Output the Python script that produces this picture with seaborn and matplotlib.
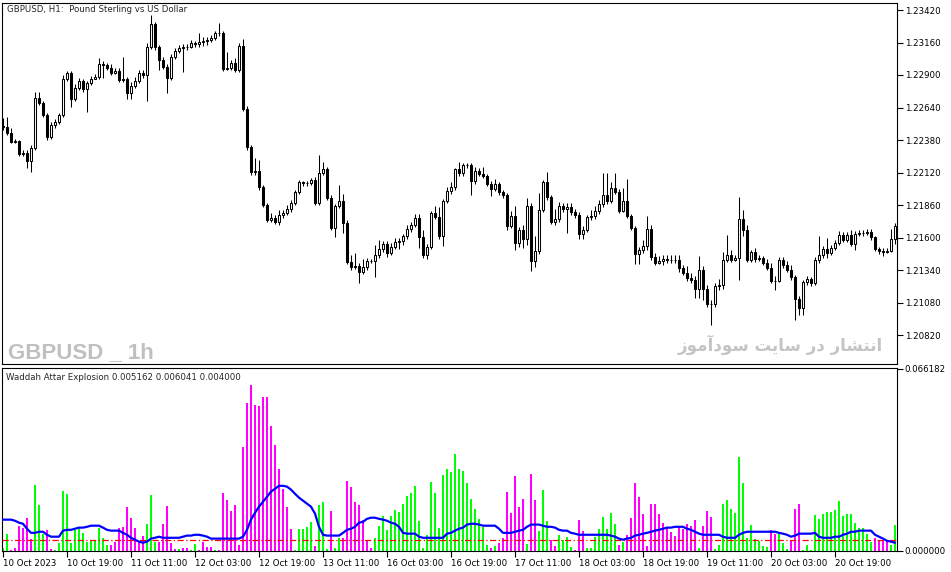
import pandas as pd
import matplotlib.pyplot as plt
import seaborn as sns
from matplotlib import font_manager

### GBPUSD H1 candles (MT5 screenshot), bar 0 = 10 Oct 2023 03:00, open of bar i = close of bar i-1
first_open = 1.22492
close = [1.22484, 1.22436, 1.22364, 1.22372, 1.22268, 1.22276, 1.22212, 1.22316, 1.22716, 1.22676, 1.22580, 1.22404, 1.22500, 1.22524, 1.22580,
         1.22868, 1.22916, 1.22708, 1.22796, 1.22852, 1.22788, 1.22836, 1.22868, 1.22884, 1.22988, 1.22980, 1.22956, 1.22916, 1.22932, 1.22860,
         1.22868, 1.22756, 1.22812, 1.22852, 1.22916, 1.22900, 1.23124, 1.23308, 1.23124, 1.23020, 1.22964, 1.22876, 1.23044, 1.23092, 1.23116,
         1.23124, 1.23124, 1.23156, 1.23148, 1.23164, 1.23172, 1.23180, 1.23196, 1.23236, 1.23236, 1.22948, 1.22956, 1.22996, 1.22940, 1.23132,
         1.22628, 1.22324, 1.22124, 1.22132, 1.22004, 1.21860, 1.21740, 1.21756, 1.21724, 1.21780, 1.21796, 1.21828, 1.21876, 1.21964, 1.22044,
         1.22036, 1.22036, 1.22060, 1.21876, 1.22116, 1.22148, 1.21916, 1.21676, 1.21852, 1.21892, 1.21716, 1.21404, 1.21364, 1.21372, 1.21324,
         1.21364, 1.21412, 1.21412, 1.21460, 1.21508, 1.21548, 1.21476, 1.21524, 1.21564, 1.21572, 1.21612, 1.21668, 1.21700, 1.21756, 1.21604,
         1.21460, 1.21524, 1.21796, 1.21764, 1.21612, 1.21892, 1.21972, 1.22004, 1.22148, 1.22116, 1.22180, 1.22180, 1.22052, 1.22132, 1.22108,
         1.22092, 1.22028, 1.21988, 1.22028, 1.21964, 1.21940, 1.21692, 1.21772, 1.21556, 1.21660, 1.21588, 1.21852, 1.21412, 1.21492, 1.21820,
         1.22044, 1.21924, 1.21724, 1.21748, 1.21852, 1.21828, 1.21844, 1.21804, 1.21780, 1.21628, 1.21660, 1.21764, 1.21772, 1.21812, 1.21868,
         1.21940, 1.21892, 1.21996, 1.21964, 1.21812, 1.21892, 1.21772, 1.21676, 1.21468, 1.21500, 1.21532, 1.21668, 1.21444, 1.21396, 1.21412,
         1.21428, 1.21420, 1.21420, 1.21420, 1.21356, 1.21316, 1.21276, 1.21260, 1.21188, 1.21340, 1.21188, 1.21068, 1.21068, 1.21212, 1.21220,
         1.21420, 1.21460, 1.21420, 1.21436, 1.21748, 1.21660, 1.21420, 1.21484, 1.21428, 1.21436, 1.21396, 1.21356, 1.21252, 1.21252, 1.21420,
         1.21380, 1.21340, 1.21284, 1.21108, 1.21036, 1.21244, 1.21268, 1.21236, 1.21420, 1.21460, 1.21508, 1.21476, 1.21516, 1.21556, 1.21620,
         1.21580, 1.21620, 1.21548, 1.21628, 1.21636, 1.21636, 1.21644, 1.21604, 1.21508, 1.21492, 1.21484, 1.21492, 1.21588, 1.21692]
high = [1.22556, 1.22564, 1.22476, 1.22388, 1.22380, 1.22300, 1.22300, 1.22340, 1.22764, 1.22764, 1.22692, 1.22596, 1.22524, 1.22548, 1.22596,
        1.22900, 1.22932, 1.22932, 1.22828, 1.22876, 1.22868, 1.22852, 1.22892, 1.22908, 1.23036, 1.23012, 1.22996, 1.22988, 1.22956, 1.22956,
        1.23044, 1.22884, 1.22844, 1.22884, 1.22940, 1.22940, 1.23156, 1.23380, 1.23324, 1.23140, 1.23044, 1.22988, 1.23068, 1.23116, 1.23140,
        1.23148, 1.23148, 1.23180, 1.23172, 1.23236, 1.23204, 1.23204, 1.23220, 1.23252, 1.23316, 1.23252, 1.23084, 1.23020, 1.23036, 1.23156,
        1.23188, 1.22652, 1.22340, 1.22236, 1.22220, 1.22020, 1.21876, 1.21796, 1.21780, 1.21820, 1.21820, 1.21860, 1.21900, 1.21980, 1.22060,
        1.22052, 1.22052, 1.22076, 1.22084, 1.22260, 1.22204, 1.22164, 1.21940, 1.21868, 1.22020, 1.21948, 1.21740, 1.21460, 1.21476, 1.21396,
        1.21428, 1.21436, 1.21428, 1.21540, 1.21580, 1.21572, 1.21572, 1.21556, 1.21596, 1.21596, 1.21628, 1.21700, 1.21724, 1.21788, 1.21788,
        1.21660, 1.21548, 1.21812, 1.21852, 1.21844, 1.21908, 1.22004, 1.22044, 1.22156, 1.22204, 1.22196, 1.22196, 1.22196, 1.22164, 1.22156,
        1.22164, 1.22108, 1.22052, 1.22068, 1.22044, 1.21980, 1.21956, 1.21812, 1.21852, 1.21684, 1.21700, 1.21916, 1.21876, 1.21612, 1.21956,
        1.22060, 1.22124, 1.21940, 1.21828, 1.21884, 1.21876, 1.21876, 1.21876, 1.21828, 1.21804, 1.21692, 1.21780, 1.21820, 1.21852, 1.21900,
        1.22116, 1.22116, 1.22044, 1.22116, 1.21988, 1.21996, 1.22068, 1.21788, 1.21692, 1.21524, 1.21580, 1.21772, 1.21700, 1.21476, 1.21452,
        1.21460, 1.21460, 1.21460, 1.21460, 1.21460, 1.21380, 1.21372, 1.21316, 1.21292, 1.21452, 1.21372, 1.21220, 1.21100, 1.21236, 1.21268,
        1.21484, 1.21620, 1.21500, 1.21460, 1.21924, 1.21820, 1.21700, 1.21500, 1.21516, 1.21460, 1.21452, 1.21428, 1.21396, 1.21292, 1.21444,
        1.21444, 1.21412, 1.21380, 1.21300, 1.21132, 1.21260, 1.21292, 1.21284, 1.21444, 1.21612, 1.21532, 1.21596, 1.21540, 1.21580, 1.21652,
        1.21644, 1.21644, 1.21660, 1.21652, 1.21660, 1.21660, 1.21668, 1.21668, 1.21612, 1.21524, 1.21516, 1.21516, 1.21668, 1.21716]
low = [1.22460, 1.22420, 1.22356, 1.22356, 1.22252, 1.22252, 1.22156, 1.22124, 1.22300, 1.22660, 1.22564, 1.22380, 1.22388, 1.22476, 1.22508,
       1.22564, 1.22852, 1.22644, 1.22692, 1.22780, 1.22764, 1.22604, 1.22820, 1.22868, 1.22868, 1.22876, 1.22940, 1.22900, 1.22908, 1.22844,
       1.22844, 1.22708, 1.22708, 1.22796, 1.22836, 1.22876, 1.22692, 1.23108, 1.23100, 1.22940, 1.22948, 1.22756, 1.22860, 1.23028, 1.23076,
       1.22924, 1.23100, 1.23116, 1.23124, 1.23124, 1.23132, 1.23140, 1.23164, 1.23180, 1.23212, 1.22932, 1.22940, 1.22940, 1.22924, 1.22924,
       1.22612, 1.22300, 1.22100, 1.22100, 1.21980, 1.21844, 1.21724, 1.21724, 1.21708, 1.21700, 1.21756, 1.21780, 1.21804, 1.21860, 1.21948,
       1.22012, 1.22012, 1.22020, 1.21860, 1.21860, 1.22100, 1.21900, 1.21660, 1.21604, 1.21836, 1.21636, 1.21388, 1.21340, 1.21348, 1.21236,
       1.21308, 1.21340, 1.21396, 1.21284, 1.21436, 1.21484, 1.21444, 1.21460, 1.21508, 1.21508, 1.21540, 1.21588, 1.21644, 1.21684, 1.21516,
       1.21436, 1.21428, 1.21508, 1.21748, 1.21588, 1.21532, 1.21876, 1.21948, 1.21980, 1.22092, 1.22092, 1.22156, 1.21940, 1.22028, 1.22092,
       1.22076, 1.22012, 1.21932, 1.21972, 1.21940, 1.21916, 1.21660, 1.21676, 1.21500, 1.21524, 1.21516, 1.21540, 1.21332, 1.21364, 1.21468,
       1.21804, 1.21900, 1.21708, 1.21700, 1.21724, 1.21804, 1.21636, 1.21780, 1.21756, 1.21588, 1.21588, 1.21644, 1.21740, 1.21748, 1.21788,
       1.21844, 1.21868, 1.21876, 1.21948, 1.21796, 1.21804, 1.21756, 1.21660, 1.21388, 1.21388, 1.21476, 1.21500, 1.21420, 1.21380, 1.21388,
       1.21380, 1.21396, 1.21396, 1.21396, 1.21324, 1.21300, 1.21252, 1.21236, 1.21116, 1.21116, 1.21100, 1.21044, 1.20900, 1.21044, 1.21180,
       1.21188, 1.21404, 1.21404, 1.21412, 1.21260, 1.21612, 1.21404, 1.21404, 1.21404, 1.21412, 1.21380, 1.21340, 1.21236, 1.21180, 1.21244,
       1.21356, 1.21324, 1.21260, 1.20940, 1.20980, 1.20980, 1.21220, 1.21212, 1.21220, 1.21396, 1.21436, 1.21436, 1.21460, 1.21500, 1.21540,
       1.21564, 1.21564, 1.21532, 1.21500, 1.21612, 1.21612, 1.21620, 1.21580, 1.21492, 1.21468, 1.21452, 1.21476, 1.21484, 1.21548]

### Waddah Attar Explosion: trend histogram (G = up / lime, M = down / magenta), explosion line, dead zone
trend = [.0011, .0062, .0004, .0011, .0091, .0084, .0120, .0044, .0240, .0167, .0062, .0076, .0007, .0004, .0029,
         .0218, .0207, .0029, .0080, .0084, .0065, .0033, .0040, .0040, .0084, .0047, .0022, .0022, .0033, .0084,
         .0087, .0160, .0120, .0084, .0036, .0055, .0098, .0204, .0033, .0033, .0098, .0164, .0029, .0007, .0007,
         .0011, .0011, .0004, .0025, .0004, .0033, .0015, .0015, .0004, .0004, .0211, .0185, .0145, .0167, .0022,
         .0378, .0538, .0604, .0531, .0527, .0560, .0560, .0455, .0385, .0298, .0225, .0160, .0080, .0004, .0080,
         .0080, .0087, .0105, .0018, .0167, .0178, .0007, .0145, .0011, .0047, .0047, .0255, .0233, .0178, .0167,
         .0113, .0040, .0011, .0047, .0091, .0127, .0076, .0127, .0149, .0142, .0171, .0200, .0211, .0236, .0109,
         .0011, .0058, .0251, .0211, .0084, .0276, .0298, .0287, .0353, .0298, .0291, .0247, .0189, .0153, .0116,
         .0087, .0022, .0011, .0018, .0029, .0047, .0215, .0138, .0273, .0160, .0189, .0025, .0280, .0185, .0073,
         .0222, .0109, .0040, .0018, .0058, .0040, .0051, .0015, .0004, .0113, .0073, .0011, .0011, .0051, .0080,
         .0124, .0080, .0138, .0098, .0022, .0033, .0058, .0120, .0247, .0196, .0135, .0018, .0171, .0171, .0135,
         .0102, .0084, .0069, .0055, .0087, .0080, .0098, .0091, .0113, .0011, .0091, .0145, .0124, .0007, .0022,
         .0171, .0185, .0153, .0138, .0342, .0247, .0047, .0095, .0044, .0036, .0018, .0015, .0076, .0062, .0062,
         .0029, .0007, .0040, .0153, .0171, .0004, .0022, .0004, .0131, .0116, .0135, .0142, .0142, .0149, .0182,
         .0127, .0135, .0135, .0102, .0084, .0084, .0062, .0033, .0047, .0040, .0036, .0036, .0022, .0095]
trend_side = ("GGMMMMMMGGGMMGG" "GGGGGGGGGGGGMMM" "MMMMMMGGGMMMMMG" "MMGGMMMMGMMMMMM" "MMMMMMMMMMMMMGG"
              "GGGMGGGMGGMMMMM" "MMMGGGGGGGGGGGG" "GGGGGGGGGGGGGGG" "GGMGMMMMMMMGMMG" "GGMMGGGGMMMGGGG"
              "GGGGMGMMMMMMMMM" "MMMMMMMMMGMMMGG" "GGGGGGGGGGGGMMG" "GGMMMGGGGGGGGGG" "GGGGGGGGMMMMGG")
explosion = [.0113, .0113, .0113, .0109, .0102, .0098, .0080, .0065, .0065, .0069, .0069, .0058, .0051, .0051, .0051,
             .0073, .0076, .0076, .0080, .0084, .0084, .0087, .0091, .0091, .0091, .0084, .0076, .0073, .0073, .0073,
             .0065, .0058, .0047, .0040, .0033, .0029, .0033, .0044, .0047, .0051, .0047, .0047, .0047, .0047, .0047,
             .0051, .0055, .0055, .0058, .0058, .0055, .0051, .0044, .0044, .0044, .0044, .0044, .0044, .0044, .0044,
             .0051, .0076, .0113, .0138, .0160, .0178, .0196, .0215, .0225, .0236, .0236, .0233, .0222, .0207, .0193,
             .0182, .0171, .0160, .0135, .0087, .0058, .0055, .0055, .0055, .0055, .0065, .0076, .0080, .0087, .0102,
             .0105, .0116, .0120, .0120, .0116, .0113, .0109, .0102, .0098, .0087, .0065, .0062, .0062, .0062, .0051,
             .0047, .0047, .0047, .0047, .0047, .0047, .0062, .0065, .0073, .0080, .0084, .0095, .0098, .0098, .0095,
             .0091, .0091, .0091, .0091, .0080, .0065, .0065, .0065, .0069, .0073, .0076, .0087, .0095, .0095, .0095,
             .0091, .0087, .0087, .0084, .0076, .0073, .0073, .0065, .0062, .0058, .0058, .0058, .0058, .0058, .0058,
             .0058, .0058, .0055, .0051, .0044, .0040, .0044, .0047, .0055, .0058, .0062, .0065, .0069, .0073, .0076,
             .0080, .0084, .0084, .0087, .0087, .0087, .0080, .0076, .0069, .0062, .0058, .0058, .0058, .0058, .0058,
             .0051, .0047, .0047, .0047, .0058, .0065, .0069, .0069, .0069, .0069, .0069, .0069, .0069, .0069, .0065,
             .0062, .0058, .0051, .0055, .0062, .0062, .0062, .0062, .0065, .0051, .0047, .0047, .0047, .0051, .0051,
             .0058, .0062, .0069, .0069, .0073, .0073, .0073, .0073, .0058, .0051, .0044, .0036, .0033, .0029]
dead_zone = 0.004

date_labels = ["10 Oct 2023", "10 Oct 19:00", "11 Oct 11:00", "12 Oct 03:00", "12 Oct 19:00", "13 Oct 11:00",
               "16 Oct 03:00", "16 Oct 19:00", "17 Oct 11:00", "18 Oct 03:00", "18 Oct 19:00", "19 Oct 11:00",
               "20 Oct 03:00", "20 Oct 19:00"]
price_ticks = [1.20820, 1.21080, 1.21340, 1.21600, 1.21860, 1.22120, 1.22380, 1.22640, 1.22900, 1.23160, 1.23420]
wae_ticks = [0.0, 0.066182]

n = len(close)
bars = list(range(n))
df = pd.DataFrame({"bar": bars, "open": [first_open] + close[:-1], "high": high, "low": low, "close": close})
df["up"] = df["close"] >= df["open"]
wae = pd.DataFrame({"bar": bars, "trend": trend, "side": ["up" if s == "G" else "down" for s in trend_side],
                    "explosion": explosion})

sns.set_theme(style="white")
plt.rcParams["font.family"] = ["DejaVu Sans"]
plt.rcParams["axes.edgecolor"] = "black"
plt.rcParams["axes.linewidth"] = 0.8

names = {f.name for f in font_manager.fontManager.ttflist}
wm_family = "Liberation Sans" if "Liberation Sans" in names else "DejaVu Sans"

fig = plt.figure(figsize=(9.51, 5.72), dpi=100)
ax1 = fig.add_axes([2 / 951, 1 - 364 / 572, 895 / 951, 361 / 572])
ax2 = fig.add_axes([2 / 951, 1 - 551 / 572, 895 / 951, 183 / 572])

### candles
ax1.vlines(df["bar"], df["low"], df["high"], color="black", lw=0.75, zorder=2)
body_lo = df[["open", "close"]].min(axis=1)
body_h = (df["close"] - df["open"]).abs()
ax1.bar(df["bar"], body_h, bottom=body_lo, width=0.72,
        color=["white" if u else "black" for u in df["up"]], edgecolor="black", linewidth=0.75, zorder=3)

ax1.set_xlim(-0.25, 223.5)
ax1.set_ylim(1.20588, 1.23476)
ax1.set_yticks(price_ticks, [f"{p:.5f}" for p in price_ticks])
ax1.set_xticks([])
ax1.text(0.0056, 0.983, "GBPUSD, H1:  Pound Sterling vs US Dollar", transform=ax1.transAxes,
         fontsize=6.2, va="center", ha="left")
ax1.text(0.0067, 0.017, "GBPUSD _ 1h", transform=ax1.transAxes, fontsize=16, fontweight="bold",
         family=[wm_family, "DejaVu Sans"], color="#c0c0c0", va="baseline", ha="left")
# Persian watermark, written in presentation forms (matplotlib does no Arabic shaping)
fa_text = ("\uFEAF\uFEEE\uFEE3\uFE81\uFEA9\uFEEE\uFEB3 \uFE96\uFBFE\uFE8E\uFEB3 "
           "\uFEAD\uFEA9 \uFEAD\uFE8E\uFEB8\uFE98\uFEE7\uFE8D")
ax1.text(0.984, 0.036, fa_text, transform=ax1.transAxes, fontsize=12, fontweight="bold",
         family=["DejaVu Sans"], color="#c4c4c4", va="baseline", ha="right")

### WAE panel
sns.barplot(data=wae, x="bar", y="trend", hue="side", palette={"up": "#00ff00", "down": "#ff00ff"},
            native_scale=True, dodge=False, width=0.5, errorbar=None, legend=False, linewidth=0,
            saturation=1, ax=ax2, zorder=2)
sns.lineplot(data=wae, x="bar", y="explosion", color="#0000ff", lw=1.6, ax=ax2, zorder=4)
ax2.axhline(dead_zone, color="#ff0000", lw=0.9, ls=(0, (5, 2, 1, 2)), zorder=3)
ax2.set_xlim(-0.25, 223.5)
ax2.set_ylim(-0.0001, 0.06643)
ax2.set_yticks(wae_ticks, [f"{v:.6f}" for v in wae_ticks])
ax2.set_xticks(bars[::16], date_labels)
for lab in ax2.get_xticklabels():
    lab.set_horizontalalignment("left")
ax2.set_xlabel("")
ax2.set_ylabel("")
ax2.text(0.0045, 0.95, "Waddah Attar Explosion 0.005162 0.006041 0.004000", transform=ax2.transAxes,
         fontsize=6.2, va="center", ha="left")

for ax in (ax1, ax2):
    ax.set_facecolor("white")
    ax.grid(False)
    ax.yaxis.tick_right()
    ax.tick_params(axis="y", which="both", right=True, left=False, labelright=True, labelleft=False,
                   direction="out", length=4, width=0.8, pad=1.5, labelsize=6.2, colors="black")
    for sp in ax.spines.values():
        sp.set_visible(True)
        sp.set_color("black")
        sp.set_linewidth(0.8)
ax2.tick_params(axis="x", bottom=True, direction="out", length=4, width=0.8, pad=1.5, labelsize=6.2,
                colors="black")

fig.savefig("out.png", dpi=100, facecolor="white")
